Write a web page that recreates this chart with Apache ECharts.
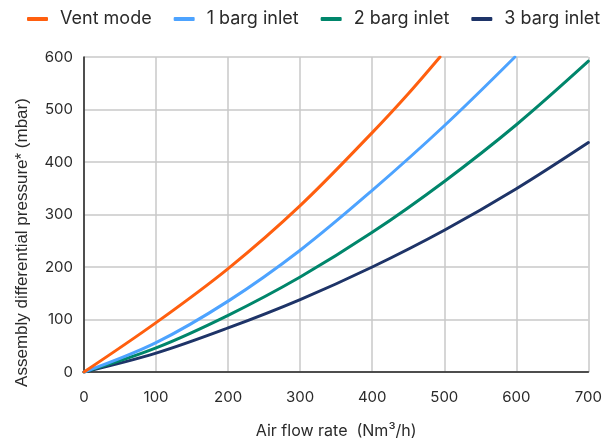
<!DOCTYPE html>
<html>
<head>
<meta charset="utf-8">
<script src="https://cdn.jsdelivr.net/npm/echarts@6/dist/echarts.min.js"></script>
<style>
  html, body { margin: 0; padding: 0; background: #fff; }
  #chart { width: 605px; height: 444px; }
</style>
</head>
<body>
<div id="chart"></div>
<script>
// Pressure drop curves (mbar) against air flow (Nm³/h)
const seriesNames = ['Vent mode', '1 barg inlet', '2 barg inlet', '3 barg inlet'];
const seriesColors = ['#FF5F0F', '#4DA3FF', '#00866B', '#1E3468'];

const ventFlow = [0, 100, 200, 300, 400, 450, 494];
const ventDp   = [0, 94, 197, 317, 456, 530, 600];

const barg1Flow = [0, 100, 200, 300, 400, 500, 598];
const barg1Dp   = [0, 56, 135, 232, 346, 469, 600];

const barg2Flow = [0, 100, 200, 300, 400, 500, 600, 700];
const barg2Dp   = [0, 46, 108, 181, 266, 363, 471, 592];

const barg3Flow = [0, 100, 200, 300, 400, 500, 600, 700];
const barg3Dp   = [0, 36, 84, 138, 200, 270, 349, 437];

const xTicks = [0, 100, 200, 300, 400, 500, 600, 700];
const yTicks = [0, 100, 200, 300, 400, 500, 600];

const flows = [ventFlow, barg1Flow, barg2Flow, barg3Flow];
const dps = [ventDp, barg1Dp, barg2Dp, barg3Dp];

const chart = echarts.init(document.getElementById('chart'), null, { renderer: 'canvas' });

const series = seriesNames.map((name, i) => ({
  name: name,
  type: 'line',
  smooth: 0.35,
  showSymbol: false,
  symbol: 'none',
  lineStyle: { width: 3, color: seriesColors[i], cap: 'round' },
  itemStyle: { color: seriesColors[i] },
  data: flows[i].map((f, j) => [f, dps[i][j]]),
  z: 10 - i
}));

chart.setOption({
  animation: false,
  backgroundColor: '#ffffff',
  textStyle: { fontFamily: 'Inter' },
  legend: {
    top: 5,
    left: 22,
    width: 600,
    itemWidth: 21,
    itemHeight: 4,
    itemGap: 22,
    icon: 'roundRect',
    textStyle: { fontFamily: 'Inter', fontSize: 18, color: '#2a2a2a', padding: [0, 0, 0, 7] },
    data: seriesNames
  },
  grid: { left: 84, right: 14, top: 57, bottom: 65, containLabel: false },
  xAxis: {
    type: 'value',
    min: xTicks[0],
    max: xTicks[xTicks.length - 1],
    interval: 100,
    name: 'Air flow rate  (Nm³/h)',
    nameLocation: 'middle',
    nameGap: 51,
    nameTextStyle: { fontFamily: 'Inter', fontSize: 16, color: '#2a2a2a' },
    axisLine: { show: true, lineStyle: { color: '#222', width: 1.5 } },
    axisTick: { show: false },
    axisLabel: { fontFamily: 'Inter', fontSize: 15, color: '#2a2a2a', margin: 18 },
    splitLine: { show: true, lineStyle: { color: '#c8c8c8', width: 1.5 } }
  },
  yAxis: {
    type: 'value',
    min: yTicks[0],
    max: yTicks[yTicks.length - 1],
    interval: 100,
    name: 'Assembly differential pressure* (mbar)',
    nameLocation: 'middle',
    nameGap: 53,
    nameTextStyle: { fontFamily: 'Liberation Sans', fontSize: 17, color: '#2a2a2a', padding: [0, 56, 0, 0] },
    axisLine: { show: true, lineStyle: { color: '#222', width: 1.5 } },
    axisTick: { show: false },
    axisLabel: { fontFamily: 'Inter', fontSize: 15, color: '#2a2a2a', margin: 11 },
    splitLine: { show: true, lineStyle: { color: '#c8c8c8', width: 1.5 } }
  },
  series: series
});
</script>
</body>
</html>
